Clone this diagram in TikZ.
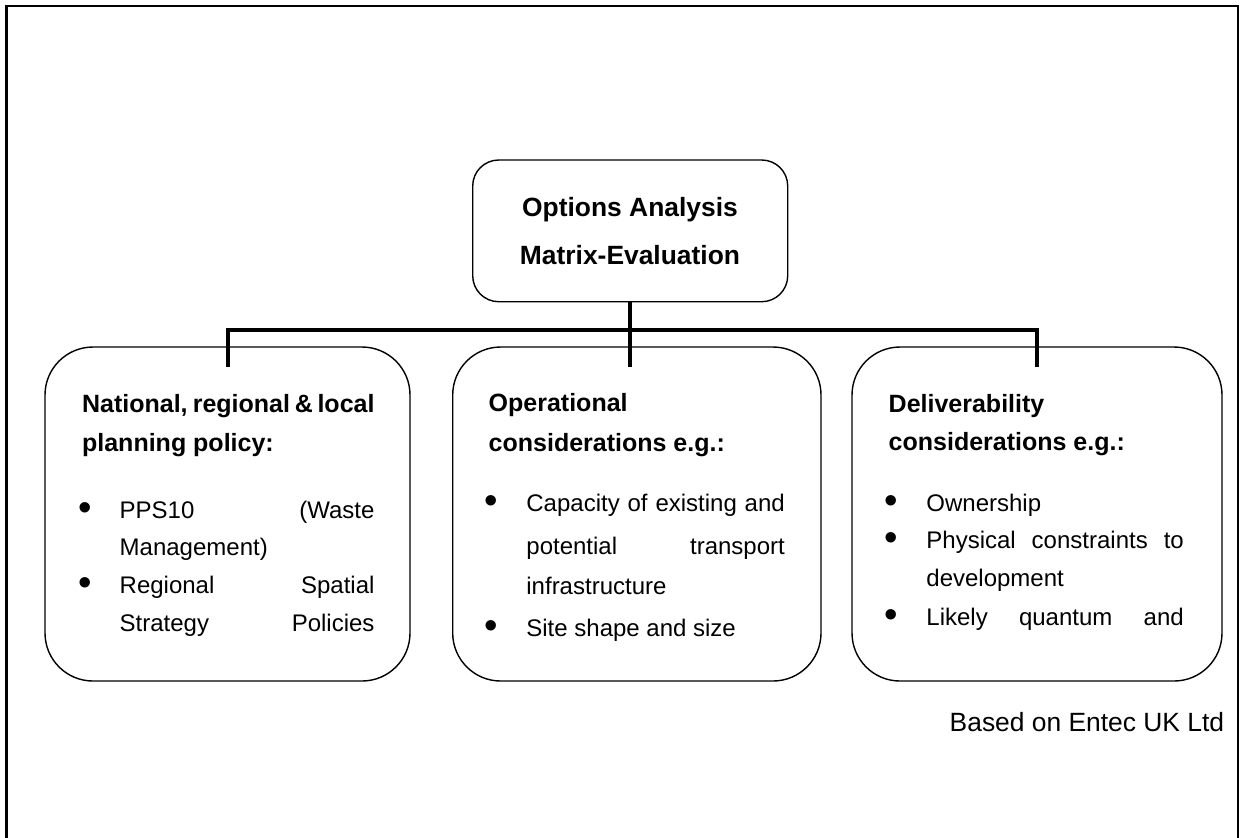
\documentclass[tikz,border=0pt]{standalone}
\usepackage{fontspec}
\setmainfont{Liberation Sans}
\usetikzlibrary{calc}
\tikzset{
  frame/.style={line width=1.1pt},
  lowbox/.style={draw, line width=0.7pt, rounded corners=24pt, minimum width=#1, minimum height=167pt, inner sep=0pt},
  topbox/.style={draw, line width=0.7pt, rounded corners=13pt, minimum width=157.5pt, minimum height=70.85pt, inner sep=0pt},
  conn/.style={line width=2pt},
  head/.style={anchor=base west, inner sep=0pt, font=\fontsize{12.5}{15}\selectfont\bfseries},
  body/.style={anchor=base west, inner sep=0pt, font=\fontsize{12}{14}\selectfont},
  titletext/.style={anchor=base, inner sep=0pt, font=\fontsize{13.2}{16}\selectfont\bfseries},
  srctext/.style={anchor=base west, inner sep=0pt, font=\fontsize{13.2}{16}\selectfont},
}
\newcommand\bul{\llap{\raisebox{-1pt}{\scalebox{1.6}{\textbullet}}\hspace{14pt}}}
\newcommand\just[2]{\makebox[#1][s]{#2}}
\begin{document}
\begin{tikzpicture}[x=0.5pt, y=-0.5pt]
\useasboundingbox (0,0) rectangle (1240,837);
% outer frame (open at the bottom)
\draw[frame] (6.5,860) -- (6.5,6) -- (1238,6) -- (1238,860);

% boxes
\node[topbox] (top) at (630.2,230.85) {};
\node[lowbox=182.5pt] (l) at (227.5,514) {};
\node[lowbox=184.15pt] (m) at (636.85,514) {};
\node[lowbox=185pt] (r) at (1037,514) {};

% connectors
\coordinate (bus) at (630,330);
\draw[conn] (top.south) -- ($(top.south |- m.north)+(0,21)$);
\draw[conn] ($(l.north)+(0,21)$) -- (l.north |- bus) -- (r.north |- bus) -- ($(r.north)+(0,21)$);

% title
\node[titletext] (t1) at (630,216.5) {Options Analysis};
\node[titletext] (t2) at (630,264.3) {Matrix-Evaluation};

% left box text
\node[head] (l1) at (81.7,412) {\just{146.2pt}{National, regional \& local}};
\node[head] (l2) at (81.7,451) {planning policy:};
\node[body] (l3) at (119.3,518) {\bul\just{127.4pt}{PPS10 (Waste}};
\node[body] (l4) at (119.3,555.7) {Management)};
\node[body] (l5) at (119.3,593) {\bul\just{127.4pt}{Regional Spatial}};
\node[body] (l6) at (119.3,631.7) {\just{127.4pt}{Strategy Policies}};

% middle box text
\node[head] (m1) at (488.3,411.7) {Operational};
\node[head] (m2) at (488.3,451.7) {considerations e.g.:};
\node[body] (m3) at (526,511.7) {\bul\just{129.2pt}{Capacity of existing and}};
\node[body] (m4) at (526,554) {\just{129.2pt}{potential transport}};
\node[body] (m5) at (526,594) {infrastructure};
\node[body] (m6) at (526,636) {\bul Site shape and size};

% right box text
\node[head] (r1) at (888.3,412) {Deliverability};
\node[head] (r2) at (888.3,450.7) {considerations e.g.:};
\node[body] (r3) at (926,511.7) {\bul Ownership};
\node[body] (r4) at (926,548) {\bul\just{128.7pt}{Physical constraints to}};
\node[body] (r5) at (926,586.7) {development};
\node[body] (r6) at (926,625) {\bul\just{128.7pt}{Likely quantum and}};

% source
\node[srctext] (src) at (949.3,731.7) {Based on Entec UK Ltd};
\end{tikzpicture}
\end{document}
